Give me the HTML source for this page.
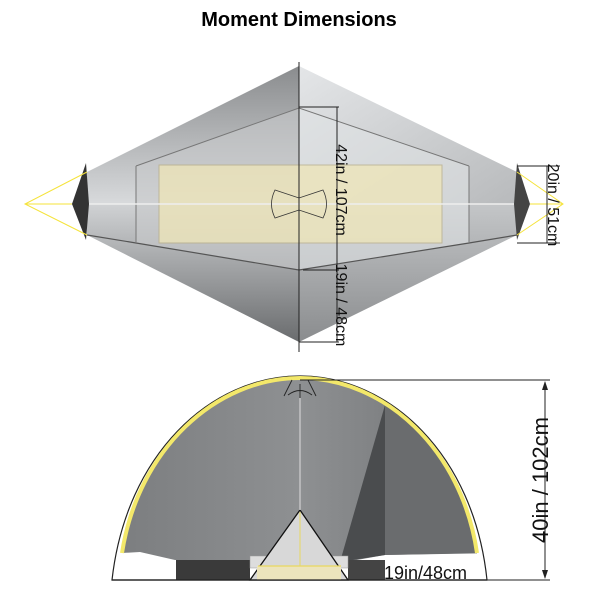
<!DOCTYPE html>
<html><head><style>body{margin:0;background:#fff}svg{display:block}</style></head><body>
<svg width="600" height="600" viewBox="0 0 600 600" xmlns="http://www.w3.org/2000/svg" font-family="Liberation Sans, sans-serif">
<defs>
<linearGradient id="tl" x1="0" y1="0" x2="0" y2="1"><stop offset="0" stop-color="#8a8c8e"/><stop offset="1" stop-color="#d8dadc"/></linearGradient>
<linearGradient id="bl" x1="0" y1="0" x2="0" y2="1"><stop offset="0" stop-color="#d0d2d4"/><stop offset="1" stop-color="#6a6c6e"/></linearGradient>
<linearGradient id="tr" x1="0" y1="0" x2="1" y2="1"><stop offset="0" stop-color="#e4e6e8"/><stop offset="1" stop-color="#b8babc"/></linearGradient>
<linearGradient id="br" x1="0" y1="0" x2="0" y2="1"><stop offset="0" stop-color="#c4c6c8"/><stop offset="1" stop-color="#8a8c8e"/></linearGradient>
<linearGradient id="fr" x1="0" y1="0" x2="1" y2="0"><stop offset="0" stop-color="#7c7e80"/><stop offset="0.5" stop-color="#8e9092"/><stop offset="1" stop-color="#707274"/></linearGradient>
<clipPath id="dome"><path d="M122,553 C138,450 215,378 300,378 C385,378 462,450 477,553 L477,600 L122,600 Z"/></clipPath>
</defs>
<text x="299" y="26" text-anchor="middle" font-size="20" font-weight="bold">Moment Dimensions</text>

<!-- top view -->
<polygon points="299,66 87,172 87,204 299,204" fill="url(#tl)"/>
<polygon points="299,66 517,172 517,204 299,204" fill="url(#tr)"/>
<polygon points="87,204 87,235 299,342 299,204" fill="url(#bl)"/>
<polygon points="517,204 517,235 299,342 299,204" fill="url(#br)"/>
<polygon points="299,108 136,166 136,243 299,270" fill="#c8cacc" opacity="0.6"/>
<polygon points="299,108 469,166 469,243 299,270" fill="#e0e2e4" opacity="0.6"/>
<polyline points="136,166 299,108 469,166" fill="none" stroke="#777" stroke-width="1"/>
<polyline points="87,235 136,243 299,270 469,243 517,235" fill="none" stroke="#555" stroke-width="1.2"/>
<line x1="136" y1="166" x2="136" y2="243" stroke="#777"/>
<line x1="469" y1="166" x2="469" y2="243" stroke="#777"/>
<rect x="159" y="165" width="283" height="78" fill="#efe6b8" opacity="0.75" stroke="#b8ae88"/>
<line x1="72" y1="204" x2="526" y2="204" stroke="#eee" stroke-width="1.5"/>
<polygon points="86,163 72,204 86,240 89,204" fill="#333"/>
<polygon points="517,163 530,204 517,240 514,204" fill="#444"/>
<g stroke="#f5e33a" stroke-width="1" fill="none">
<polyline points="87,172 25,204 87,235"/>
<polyline points="517,172 563,204 517,235"/>
<line x1="25" y1="204" x2="72" y2="204"/><line x1="530" y1="204" x2="563" y2="204"/>
</g>
<path d="M275,190 L299,198 L323,190 Q330,204 323,218 L299,210 L275,218 Q268,204 275,190Z" fill="none" stroke="#333" stroke-width="0.8"/>
<line x1="299" y1="62" x2="299" y2="352" stroke="#222" stroke-width="1"/>
<g stroke="#222" stroke-width="1">
<line x1="337" y1="107" x2="337" y2="342"/>
<line x1="299" y1="107" x2="339" y2="107"/><line x1="303" y1="270" x2="339" y2="270"/><line x1="299" y1="342" x2="339" y2="342"/>
<line x1="547" y1="166" x2="547" y2="243"/>
<line x1="517" y1="166" x2="560" y2="166"/><line x1="517" y1="243" x2="560" y2="243"/>
</g>
<g font-size="16" fill="#111">
<text transform="translate(336,190) rotate(90)" text-anchor="middle">42in / 107cm</text>
<text transform="translate(336,305) rotate(90)" text-anchor="middle">19in / 48cm</text>
<text transform="translate(548,205) rotate(90)" text-anchor="middle">20in / 51cm</text>
</g>

<!-- front view -->
<path d="M112,580 C126,455 210,376 300,376 C390,376 474,455 487,580 Z" fill="#fff" stroke="#222" stroke-width="1.2"/>
<path d="M122,553 C138,450 215,378 300,378 C385,378 462,450 477,553 L385,555 L340,563 L300,560 L175,560 L140,552 Z" fill="url(#fr)"/>
<g clip-path="url(#dome)">
<polygon points="385,405 385,555 340,562" fill="#4a4c4e"/>
<polygon points="385,405 500,300 500,553 385,555" fill="#6a6c6e"/>
</g>
<path d="M122,553 C138,450 215,378 300,378 C385,378 462,450 477,553" fill="none" stroke="#f3e86a" stroke-width="4"/>
<rect x="176" y="560" width="74" height="20" fill="#3a3a3a"/>
<rect x="348" y="560" width="37" height="20" fill="#444"/>
<rect x="250" y="556" width="98" height="12" fill="#ddd" stroke="#999" stroke-width="0.5"/>
<polygon points="300,510 250,580 348,580" fill="#d8d8d8" stroke="#111" stroke-width="1.3"/>
<rect x="257" y="566" width="84" height="14" fill="#ece4bc"/>
<line x1="258" y1="566" x2="341" y2="566" stroke="#e8d860" stroke-width="1.3"/>
<line x1="300" y1="512" x2="300" y2="566" stroke="#e8d860" stroke-width="1"/>
<line x1="300" y1="385" x2="300" y2="510" stroke="#ddd" stroke-width="1"/>
<path d="M288,395 Q300,386 312,395 M292,380 L284,396 M308,380 L316,396 M300,384 L300,398" fill="none" stroke="#222" stroke-width="0.9"/>
<line x1="112" y1="580" x2="487" y2="580" stroke="#222" stroke-width="1.2"/>
<g stroke="#222" stroke-width="1">
<line x1="300" y1="380" x2="550" y2="380"/><line x1="487" y1="580" x2="550" y2="580"/>
<line x1="545" y1="382" x2="545" y2="578"/>
</g>
<polygon points="545,381 542,390 548,390" fill="#222"/>
<polygon points="545,579 542,570 548,570" fill="#222"/>
<text transform="translate(548,480) rotate(-90)" text-anchor="middle" font-size="22" fill="#111">40in / 102cm</text>
<text x="384" y="579" font-size="18" fill="#111">19in/48cm</text>
</svg>
</body></html>
